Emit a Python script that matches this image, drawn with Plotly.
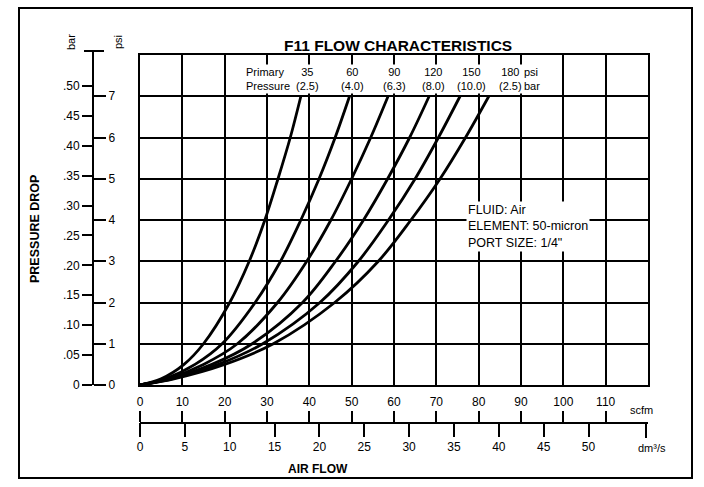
import plotly.graph_objects as go

# ---- data -------------------------------------------------------------
# pressure drop (psi) at which flow was read for every curve
psi_points = [0, 0.15, 0.5, 1, 2, 3, 4, 5, 6, 7]

# primary pressure of each curve, in psi and bar (as printed)
primary_psi = ["35", "60", "90", "120", "150", "180"]
primary_bar = ["(2.5)", "(4.0)", "(6.3)", "(8.0)", "(10.0)", "(2.5)"]

# air flow (scfm) read at each pressure-drop point
flow_35 = [0, 5.0, 10.4, 15.0, 21.2, 25.8, 29.5, 32.6, 35.5, 38.0]
flow_60 = [0, 6.0, 13.0, 19.4, 27.2, 33.2, 38.0, 42.3, 46.1, 49.5]
flow_90 = [0, 6.5, 15.0, 23.0, 32.5, 39.4, 45.1, 50.0, 54.5, 58.6]
flow_120 = [0, 7.0, 17.0, 26.5, 38.4, 46.2, 52.8, 58.5, 63.7, 68.3]
flow_150 = [0, 7.5, 18.5, 29.0, 42.5, 51.6, 58.7, 65.0, 70.5, 75.6]
flow_180 = [0, 8.0, 20.0, 31.5, 46.0, 56.3, 64.0, 70.9, 76.9, 82.4]
flows = [flow_35, flow_60, flow_90, flow_120, flow_150, flow_180]

# axis ticks
bar_ticks = [0, 0.05, 0.10, 0.15, 0.20, 0.25, 0.30, 0.35, 0.40, 0.45, 0.50]
bar_labels = ["0", ".05", ".10", ".15", ".20", ".25", ".30", ".35", ".40", ".45", ".50"]
psi_ticks = [0, 1, 2, 3, 4, 5, 6, 7]
scfm_ticks = [0, 10, 20, 30, 40, 50, 60, 70, 80, 90, 100, 110]
dm3_ticks = [0, 5, 10, 15, 20, 25, 30, 35, 40, 45, 50]

PSI_TO_BAR = 0.0689476
SCFM_TO_DM3S = 0.4719474
PSI_MAX = 8
SCFM_MAX = 120

# ---- page geometry (pixels -> paper) ------------------------------------
W, H = 704, 487


def px(x):
    return x / W


def py(y):
    return 1 - y / H


X_DOM = [px(140), px(648)]
Y_DOM = [py(385), py(55)]
FONT = "Liberation Sans, Arial, sans-serif"

fig = go.Figure()

for f in flows:
    fig.add_trace(go.Scatter(
        x=f, y=psi_points, mode="lines",
        line=dict(color="black", width=2.8, shape="spline", smoothing=1.0),
        hoverinfo="skip", showlegend=False,
    ))

# empty traces so the extra scales are drawn
for xa, ya in [("x", "y2"), ("x", "y3"), ("x2", "y"), ("x3", "y")]:
    fig.add_trace(go.Scatter(x=[None], y=[None], xaxis=xa, yaxis=ya,
                             showlegend=False, hoverinfo="skip"))

grid = dict(showgrid=True, gridcolor="black", gridwidth=2, zeroline=False,
            showline=True, mirror=True, linecolor="black", linewidth=2,
            showticklabels=False, ticks="", automargin=False, fixedrange=True)

tickfont = dict(family=FONT, size=12, color="black")

fig.update_layout(
    width=W, height=H,
    margin=dict(l=0, r=0, t=0, b=0),
    paper_bgcolor="white", plot_bgcolor="white",
    showlegend=False,
    xaxis=dict(domain=X_DOM, range=[0, SCFM_MAX], dtick=10, **grid),
    yaxis=dict(domain=Y_DOM, range=[0, PSI_MAX], dtick=1, **grid),
    # bar scale (left of the shared axis line)
    yaxis2=dict(overlaying="y", anchor="free", position=px(93), side="left",
                range=[0, PSI_MAX * PSI_TO_BAR], tickvals=bar_ticks, ticktext=bar_labels,
                ticks="outside", ticklen=10, tickwidth=2, tickcolor="black",
                showline=True, linecolor="black", linewidth=2, showgrid=False,
                zeroline=False, tickfont=tickfont, automargin=False),
    # psi scale (right of the shared axis line)
    yaxis3=dict(overlaying="y", anchor="free", position=px(93), side="right",
                range=[0, PSI_MAX], tickvals=psi_ticks,
                ticks="outside", ticklen=12, tickwidth=2, tickcolor="black",
                showline=False, showgrid=False, zeroline=False,
                tickfont=tickfont, automargin=False),
    # scfm scale (above the flow axis line)
    xaxis2=dict(overlaying="x", anchor="free", position=py(423), side="top",
                range=[0, SCFM_MAX], tickvals=scfm_ticks,
                ticks="outside", ticklen=11, tickwidth=2, tickcolor="black",
                showline=True, linecolor="black", linewidth=2, showgrid=False,
                zeroline=False, tickfont=tickfont, automargin=False),
    # dm3/s scale (below the flow axis line)
    xaxis3=dict(overlaying="x", anchor="free", position=py(423), side="bottom",
                range=[0, SCFM_MAX * SCFM_TO_DM3S], tickvals=dm3_ticks,
                ticks="outside", ticklen=13, tickwidth=2, tickcolor="black",
                showline=False, showgrid=False, zeroline=False,
                tickfont=tickfont, automargin=False),
)

shapes = [
    # outer frame
    dict(type="rect", xref="paper", yref="paper", x0=px(19), x1=px(692),
         y0=py(478), y1=py(8), line=dict(color="black", width=2)),
    # cap on the pressure scale
    dict(type="line", xref="paper", yref="paper", x0=px(93), x1=px(93),
         y0=py(55), y1=py(51), line=dict(color="black", width=2)),
    dict(type="line", xref="paper", yref="paper", x0=px(84), x1=px(104),
         y0=py(51), y1=py(51), line=dict(color="black", width=2)),
    # end tick of the flow scale
    dict(type="line", xref="paper", yref="paper", x0=px(646), x1=px(646),
         y0=py(423), y1=py(438), line=dict(color="black", width=2)),
    # zero tick below the flow scale
    dict(type="line", xref="paper", yref="paper", x0=px(140), x1=px(140),
         y0=py(423), y1=py(436), line=dict(color="black", width=2)),
]
fig.update_layout(shapes=shapes)

ann = []


def text(x, y, s, size=12, bold=False, angle=0, xanchor="center", align="center", bg=None):
    a = dict(xref="paper", yref="paper", x=px(x), y=py(y), text=f"<b>{s}</b>" if bold else s,
             showarrow=False, xanchor=xanchor, yanchor="middle", textangle=angle, align=align,
             font=dict(family=FONT, size=size, color="black"))
    if bg:
        a.update(bgcolor=bg, borderpad=1)
    ann.append(a)


text(398, 46, "F11 FLOW CHARACTERISTICS", size=15.5, bold=True)
text(35, 229, "PRESSURE DROP", size=12.5, bold=True, angle=-90)
text(318, 469, "AIR FLOW", size=12, bold=True)
text(71, 42, "bar", size=11, angle=-90)
text(118, 42, "psi", size=11, angle=-90)
text(641, 410, "scfm", size=11)
text(652, 448, "dm³/s", size=11)

# primary pressure header
text(292, 79, "Primary<br>Pressure", size=11, xanchor="right", align="left", bg="white")
label_x = [307, 352, 394, 433, 471, 510]
for xx, p, b in zip(label_x, primary_psi, primary_bar):
    text(xx, 79, f"{p}<br>{b}", size=11, bg="white")
text(522, 79, "psi<br>bar", size=11, xanchor="left", align="left", bg="white")

# test conditions
text(466, 226, "FLUID: Air<br>ELEMENT: 50-micron<br>PORT SIZE: 1/4\"", size=12.5,
     xanchor="left", align="left", bg="white")

fig.update_layout(annotations=ann)

fig.write_html("out.html")
